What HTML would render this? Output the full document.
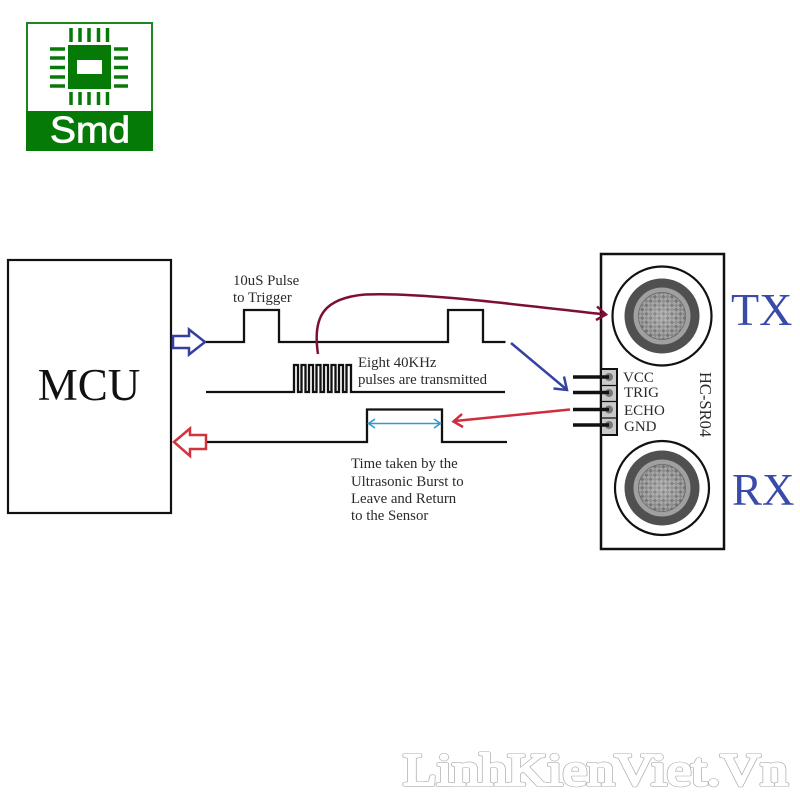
<!DOCTYPE html>
<html>
<head>
<meta charset="utf-8">
<style>
html,body{margin:0;padding:0;background:#fff;width:800px;height:800px;overflow:hidden}
svg{display:block}
.s{font-family:"Liberation Serif",serif;fill:#2a2a2a}
</style>
</head>
<body>
<svg width="800" height="800" viewBox="0 0 800 800" xmlns="http://www.w3.org/2000/svg">
<defs>
<pattern id="mesh" width="6" height="6" patternUnits="userSpaceOnUse" patternTransform="rotate(45 662 316)">
<rect width="6" height="6" fill="#a0a0a0"/>
<rect width="3" height="3" fill="#707070"/>
<rect x="3" y="3" width="3" height="3" fill="#848484"/>
</pattern>
<radialGradient id="glow">
<stop offset="0" stop-color="#fff" stop-opacity=".25"/>
<stop offset="1" stop-color="#fff" stop-opacity="0"/>
</radialGradient>
</defs>

<!-- Logo -->
<rect x="27" y="23" width="125" height="127" fill="#fff" stroke="#1d861d" stroke-width="2"/>
<rect x="26" y="111" width="127" height="40" fill="#067a06"/>
<rect x="68" y="45" width="43" height="44" fill="#067a06"/>
<rect x="77" y="60" width="25" height="14" fill="#fff"/>
<g stroke="#067a06" stroke-width="3.500" fill="none">
<path d="M71 28V42M80 28V42M89 28V42M98.500 28V42M107.500 28V42"/>
<path d="M71 92V105M80 92V105M89 92V105M98.500 92V105M107.500 92V105"/>
<path d="M50 49H65M50 58H65M50 67.500H65M50 77H65M50 86H65"/>
<path d="M114 49H128M114 58H128M114 67.500H128M114 77H128M114 86H128"/>
</g>
<text x="50" y="142.500" font-family="Liberation Sans,sans-serif" font-size="37" fill="#fff" stroke="#fff" stroke-width=".8" textLength="80" lengthAdjust="spacingAndGlyphs">Smd</text>

<!-- MCU -->
<rect x="8" y="260" width="163" height="253" fill="#fff" stroke="#111" stroke-width="2.200"/>
<text x="89" y="400" text-anchor="middle" font-family="Liberation Serif,serif" font-size="45" fill="#111">MCU</text>

<!-- Hollow arrows -->
<path d="M173 336H189V329.500L205 342L189 354.500V348H173Z" fill="#fff" stroke="#34409f" stroke-width="2.500"/>
<path d="M174 442L190 428.500V435H206V449H190V456Z" fill="#fff" stroke="#d0353f" stroke-width="2.500"/>

<!-- Signals -->
<g fill="none" stroke="#111" stroke-width="2.300">
<path d="M206 342H244V310H279V342H448V310H483V342H505.500"/>
<path d="M206 392H294V365H298V392H301.500V365H305.500V392H309V365H313V392H316.500V365H320.500V392H324V365H328V392H331.500V365H335.500V392H339V365H343V392H346.500V365H351V392H505"/>
<path d="M207 442H367V409.500H442V442H507"/>
</g>

<!-- Time span arrow -->
<g fill="none" stroke="#2f9bd2" stroke-width="1.600">
<path d="M369 423.500H440"/>
<path d="M375 419L368.500 423.500L375 428M434 419L440.500 423.500L434 428"/>
</g>

<!-- Blue arrow -->
<g fill="none" stroke="#36429f" stroke-width="2.500">
<path d="M511 343L566 389"/>
<path d="M553.500 388.500L567 390L564 376.500"/>
</g>

<!-- Red arrow -->
<g fill="none" stroke="#d12b3d" stroke-width="2.500">
<path d="M570 409.500L455 421"/>
<path d="M462 414L453.500 421.500L463 427"/>
</g>

<!-- Sensor -->
<rect x="601" y="254" width="123" height="295" fill="#fff" stroke="#111" stroke-width="2.500"/>
<circle cx="662" cy="316" r="49.500" fill="#fff" stroke="#111" stroke-width="2.200"/>
<circle cx="662" cy="316" r="37.500" fill="#505050"/>
<circle cx="662" cy="316" r="28.500" fill="#a0a0a0"/>
<circle cx="662" cy="316" r="23.500" fill="url(#mesh)"/>
<circle cx="662" cy="316" r="23.500" fill="url(#glow)" stroke="#666" stroke-width=".7"/>

<circle cx="662" cy="488" r="47" fill="#fff" stroke="#111" stroke-width="2.200"/>
<circle cx="662" cy="488" r="37.500" fill="#505050"/>
<circle cx="662" cy="488" r="28.500" fill="#a0a0a0"/>
<circle cx="662" cy="488" r="23.500" fill="url(#mesh)"/>
<circle cx="662" cy="488" r="23.500" fill="url(#glow)" stroke="#666" stroke-width=".7"/>

<!-- Maroon curve (on top of sensor edge) -->
<g fill="none" stroke="#7c1034" stroke-width="2.500">
<path d="M318 354C312 315 325 298 365 294.500C420 292 520 305 605 314.500"/>
<path d="M597 306.500L606 314.500L596 320"/>
</g>

<!-- Header -->
<rect x="601" y="369" width="16" height="66" fill="#c9c9c9" stroke="#111" stroke-width="2"/>
<path d="M601 385.500H617M601 401.500H617M601 418H617" stroke="#111" stroke-width="1.200"/>
<g fill="#777"><circle cx="609" cy="377" r="4"/><circle cx="609" cy="393" r="4"/><circle cx="609" cy="409.500" r="4"/><circle cx="609" cy="425" r="4"/></g>
<g stroke="#111" stroke-width="3.500" fill="none">
<path d="M573 377H609M573 392.500H609M573 409.500H609M573 425H609"/>
</g>

<g class="s" font-size="15">
<text x="623" y="382">VCC</text>
<text x="624" y="397">TRIG</text>
<text x="624" y="415">ECHO</text>
<text x="624" y="431">GND</text>
</g>
<text class="s" font-size="16.500" transform="translate(700 372) rotate(90)">HC-SR04</text>

<text x="731" y="325" font-family="Liberation Serif,serif" font-size="46" fill="#3a4aa8">TX</text>
<text x="732" y="505" font-family="Liberation Serif,serif" font-size="45" fill="#3a4aa8">RX</text>

<!-- Labels -->
<g class="s" font-size="14.800">
<text x="233" y="285">10uS Pulse</text>
<text x="233" y="302">to Trigger</text>
<text x="358" y="367">Eight 40KHz</text>
<text x="358" y="384">pulses are transmitted</text>
<text x="351" y="468">Time taken by the</text>
<text x="351" y="486">Ultrasonic Burst to</text>
<text x="351" y="503">Leave and Return</text>
<text x="351" y="520">to the Sensor</text>
</g>

<!-- Watermark -->
<g font-family="Liberation Serif,serif" font-size="46" stroke-linejoin="round">
<text x="403" y="785" textLength="385" lengthAdjust="spacingAndGlyphs" fill="#aaa" stroke="#aaa" stroke-width="3.600">LinhKienViet.Vn</text>
<text x="403" y="785" textLength="385" lengthAdjust="spacingAndGlyphs" fill="#fff" stroke="#fff" stroke-width="2.400">LinhKienViet.Vn</text>
</g>
</svg>
</body>
</html>
